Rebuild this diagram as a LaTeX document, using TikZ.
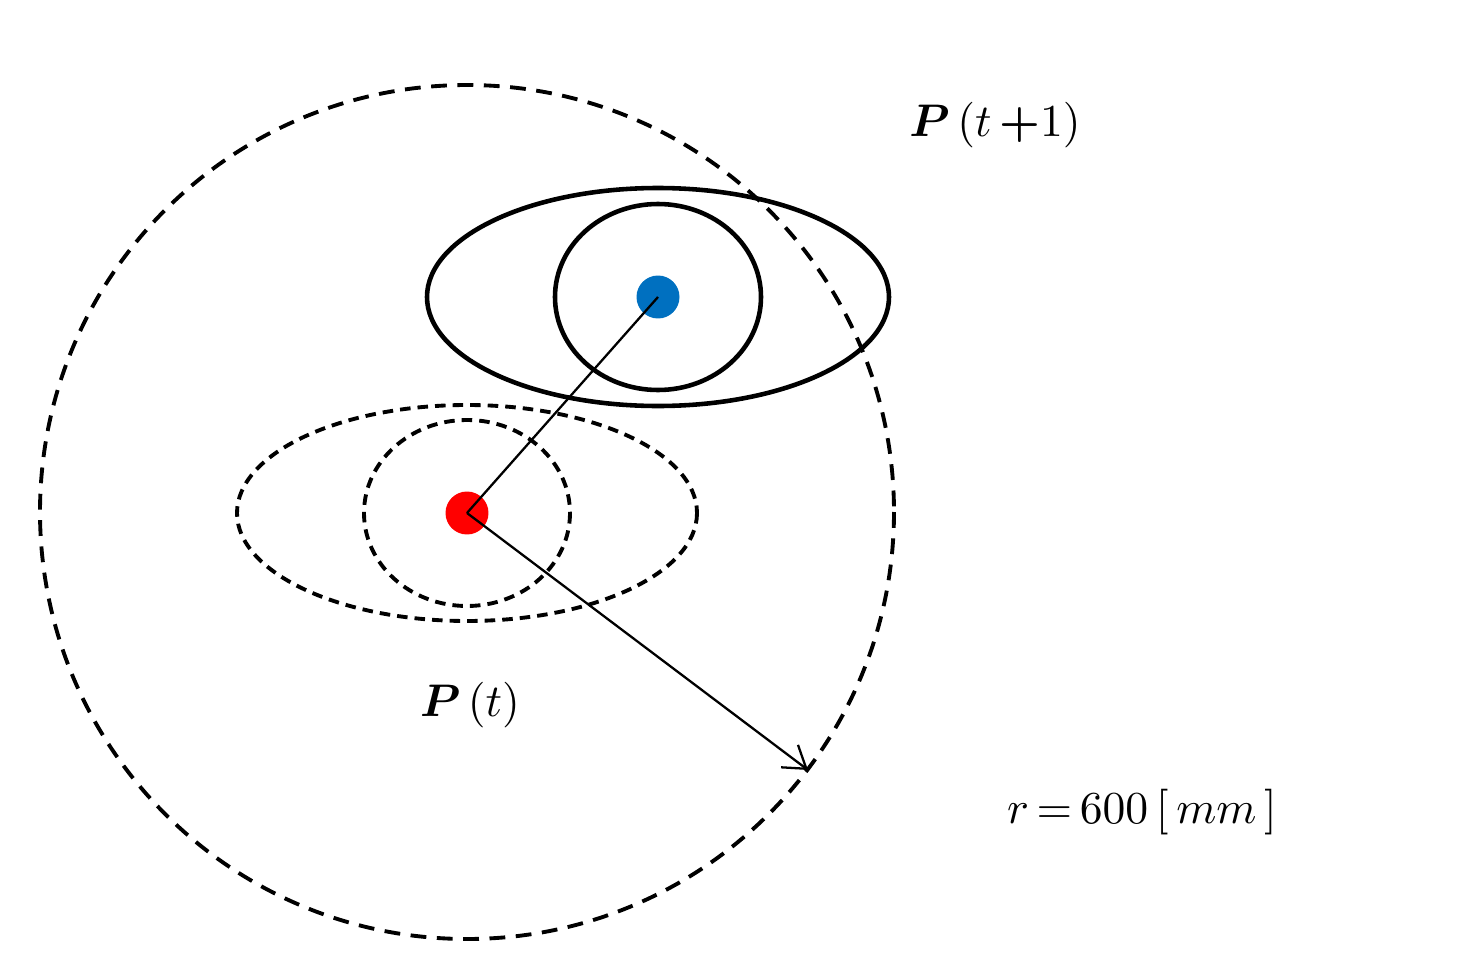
\documentclass[tikz,border=0pt]{standalone}
\usepackage{amsmath,bm}
\usetikzlibrary{arrows.meta}
\begin{document}
\begin{tikzpicture}[x=0.02cm,y=-0.02cm,
  thick2/.style={line width=2.6pt},
  dsh/.style={line width=2.2pt,dash pattern=on 9pt off 6pt},
  lbl/.style={inner sep=0}]
\useasboundingbox (0,0) rectangle (1472,977);
\draw[dsh] (467,512) circle[radius=427];
\draw[thick2] (658,297) ellipse[x radius=231,y radius=109];
\draw[thick2] (658,297) ellipse[x radius=103,y radius=93];
\draw[dsh,dash pattern=on 6pt off 4pt] (467,513) ellipse[x radius=230,y radius=108];
\draw[dsh,dash pattern=on 6pt off 4pt] (467,513) ellipse[x radius=103,y radius=93];
\node[circle,fill=red,inner sep=0,minimum size=0.86cm] (pt) at (467,513) {};
\node[circle,fill={rgb,255:red,0;green,112;blue,192},inner sep=0,minimum size=0.86cm] (pt1) at (658,297) {};
\coordinate (rim) at (808,770);
\draw[line width=1.3pt] (pt.center) -- (pt1.center);
\draw[line width=1.3pt,-{Straight Barb[length=12pt,width=16pt]}] (pt.center) -- (rim);
\node[lbl] (l1) at (995,125) {\scalebox{2.6}{$\bm{P}\left(t\,{\bm +}1\right)$}};
\node[lbl] (l2) at (470,705) {\scalebox{2.6}{$\bm{P}\left(t\right)$}};
\node[lbl] (l3) at (1142,812) {\scalebox{2.6}{$r\,{=}\,600\left[\,mm\,\right]$}};
\end{tikzpicture}
\end{document}
